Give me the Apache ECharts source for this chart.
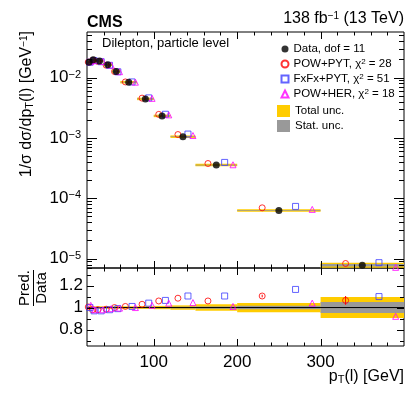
<!DOCTYPE html>
<html>
<head>
<meta charset="utf-8">
<script src="https://cdn.jsdelivr.net/npm/echarts@6/dist/echarts.min.js"></script>
<style>
html, body { margin: 0; padding: 0; background: #fff; }
#main { width: 407px; height: 394px; }
</style>
</head>
<body>
<div id="main"></div>
<script>
let fontFam = "'Liberation Sans', Arial, Helvetica, sans-serif";

// bins in pT(l) [GeV]
let binEdges = [20, 25, 30, 40, 50, 60, 80, 100, 120, 150, 200, 300, 400];
// 1/sigma dsigma/dpT, data
let dataVals = [0.0180, 0.0197, 0.0189, 0.0163, 0.0126, 0.0084, 0.00444, 0.00232, 0.00105, 0.000356, 0.000063, 0.0000078];
// relative uncertainties
let totUnc = [0.012, 0.010, 0.008, 0.008, 0.008, 0.010, 0.012, 0.015, 0.020, 0.030, 0.042, 0.095];
let statUnc = [0.003, 0.003, 0.003, 0.003, 0.003, 0.004, 0.005, 0.006, 0.008, 0.010, 0.016, 0.050];
// prediction / data
let ratioPowPyt = [1.005, 0.98, 0.98, 0.985, 1.0, 1.01, 1.03, 1.06, 1.085, 1.06, 1.105, 1.065];
let ratioFxFxPyt = [1.0, 0.97, 0.97, 0.98, 0.99, 1.01, 1.04, 1.065, 1.105, 1.105, 1.165, 1.10];
let ratioPowHer = [1.02, 0.98, 0.98, 0.99, 0.995, 1.0, 1.02, 1.04, 1.045, 1.01, 1.04, 0.92];
let errPowPyt = [0, 0, 0, 0, 0, 0, 0, 0, 0, 0, 0.012, 0.04];
let predNames = ['POW+PYT', 'FxFx+PYT', 'POW+HER'];
let chi2 = [28, 51, 18];
let dof = 11;
let xTickLabels = [100, 200, 300];
let ratioTickLabels = [0.8, 1, 1.2];

let xMin = 20, xMax = 400, yMin = 7e-6, yMax = 0.057, rMin = 0.65, rMax = 1.36;

let binCenter = [], binWidth = [];
for (let i = 0; i < dataVals.length; i++) {
    binCenter.push((binEdges[i] + binEdges[i + 1]) / 2);
    binWidth.push(binEdges[i + 1] - binEdges[i]);
}

// predictions drawn shifted inside the bin
function predPoints(ratio, off, upper) {
    let pts = [];
    for (let i = 0; i < ratio.length; i++) {
        pts.push([binCenter[i] + off * binWidth[i], upper ? dataVals[i] * ratio[i] : ratio[i]]);
    }
    return pts;
}

function bandData(unc, upper) {
    let d = [];
    for (let i = 0; i < unc.length; i++) {
        let c = upper ? dataVals[i] : 1;
        d.push([binEdges[i], binEdges[i + 1], c * (1 - unc[i]), c * (1 + unc[i])]);
    }
    return d;
}

function renderBand(minH) {
    return function (params, api) {
        let a = api.coord([api.value(0), api.value(3)]);
        let b = api.coord([api.value(1), api.value(2)]);
        let h = b[1] - a[1];
        let yc = (a[1] + b[1]) / 2;
        if (h < minH) h = minH;
        return {
            type: 'rect',
            shape: {x: a[0], y: yc - h / 2, width: b[0] - a[0], height: h},
            style: {fill: api.visual('color')}
        };
    };
}

// ticks on all four sides of a panel
function tickData(xMaj, xMinr, yMaj, yMinr, refX, refY, lens) {
    let d = [];
    xMaj.forEach(v => d.push([v, refY, lens[0], 0]));
    xMinr.forEach(v => d.push([v, refY, lens[1], 0]));
    yMaj.forEach(v => d.push([refX, v, lens[2], 1]));
    yMinr.forEach(v => d.push([refX, v, lens[3], 1]));
    return d;
}

function renderTick(params, api) {
    let cs = params.coordSys;
    let p = api.coord([api.value(0), api.value(1)]);
    let len = api.value(2);
    let st = {stroke: '#000', lineWidth: 1};
    if (api.value(3) === 0) {
        let x = Math.round(p[0]) + 0.5;
        let yb = cs.y + cs.height, yt = cs.y;
        return {type: 'group', children: [
            {type: 'line', shape: {x1: x, y1: yb, x2: x, y2: yb - len}, style: st},
            {type: 'line', shape: {x1: x, y1: yt, x2: x, y2: yt + len}, style: st}
        ]};
    }
    let y = Math.round(p[1]) + 0.5;
    let xl = cs.x, xr = cs.x + cs.width;
    return {type: 'group', children: [
        {type: 'line', shape: {x1: xl, y1: y, x2: xl + len, y2: y}, style: st},
        {type: 'line', shape: {x1: xr, y1: y, x2: xr - len, y2: y}, style: st}
    ]};
}

let xMinorTicks = [];
for (let v = 40; v < 400; v += 20) {
    if (xTickLabels.indexOf(v) < 0) xMinorTicks.push(v);
}
let logMajor = [], logMinor = [];
for (let e = -6; e <= -1; e++) {
    let base = Math.pow(10, e);
    if (base >= yMin && base <= yMax) logMajor.push(base);
    for (let k = 2; k <= 9; k++) {
        let v = k * base;
        if (v >= yMin && v <= yMax) logMinor.push(v);
    }
}

let markerStyles = [
    {symbol: 'circle', color: '#ff0000'},
    {symbol: 'rect', color: '#3c3cff'},
    {symbol: 'triangle', color: '#ff00ff'}
];
let ratios = [ratioPowPyt, ratioFxFxPyt, ratioPowHer];
let offsets = [-0.2, 0.2, 0.4];

let series = [
    {name: 'Total unc.', type: 'custom', xAxisIndex: 0, yAxisIndex: 0, z: 2,
        itemStyle: {color: '#ffcc00'}, encode: {x: [0, 1], y: [2, 3]},
        renderItem: renderBand(2.5), data: bandData(totUnc, true)},
    {name: 'Stat. unc.', type: 'custom', xAxisIndex: 0, yAxisIndex: 0, z: 3,
        itemStyle: {color: '#999999'}, encode: {x: [0, 1], y: [2, 3]},
        renderItem: renderBand(0.7), data: bandData(statUnc, true)},
    {name: 'Total unc.', type: 'custom', xAxisIndex: 1, yAxisIndex: 1, z: 2,
        itemStyle: {color: '#ffcc00'}, encode: {x: [0, 1], y: [2, 3]},
        renderItem: renderBand(2.5), data: bandData(totUnc, false)},
    {name: 'Stat. unc.', type: 'custom', xAxisIndex: 1, yAxisIndex: 1, z: 3,
        itemStyle: {color: '#999999'}, encode: {x: [0, 1], y: [2, 3]},
        renderItem: renderBand(1), data: bandData(statUnc, false)},
    {type: 'line', xAxisIndex: 1, yAxisIndex: 1, z: 4, symbol: 'none', silent: true,
        lineStyle: {color: '#000', width: 1}, data: [[xMin, 1], [xMax, 1]]},
    {type: 'custom', xAxisIndex: 1, yAxisIndex: 1, z: 5, encode: {x: 0, y: [1, 2]},
        renderItem: function (params, api) {
            let a = api.coord([api.value(0), api.value(1)]);
            let b = api.coord([api.value(0), api.value(2)]);
            return {type: 'line', shape: {x1: a[0], y1: a[1], x2: b[0], y2: b[1]},
                style: {stroke: '#ff0000', lineWidth: 1}};
        },
        data: errPowPyt.map((e, i) => [binCenter[i] - 0.2 * binWidth[i], ratioPowPyt[i] - e, ratioPowPyt[i] + e])
            .filter((d, i) => errPowPyt[i] > 0)}
];

for (let k = 0; k < 3; k++) {
    for (let g = 0; g < 2; g++) {
        series.push({
            name: predNames[k], type: 'scatter', xAxisIndex: g, yAxisIndex: g, z: 6,
            symbol: markerStyles[k].symbol, symbolSize: 6,
            itemStyle: {color: 'rgba(0,0,0,0)', borderColor: markerStyles[k].color, borderWidth: 1},
            data: predPoints(ratios[k], offsets[k], g === 0)
        });
    }
}
series.push({
    name: 'Data', type: 'scatter', xAxisIndex: 0, yAxisIndex: 0, z: 7,
    symbol: 'circle', symbolSize: 7, itemStyle: {color: '#000'},
    data: dataVals.map((v, i) => [binCenter[i], v])
});
series.push({type: 'custom', xAxisIndex: 0, yAxisIndex: 0, z: 8, silent: true,
    encode: {x: 0, y: 1}, renderItem: renderTick,
    data: tickData(xTickLabels, xMinorTicks, logMajor, logMinor, 200, 1e-3, [7, 3.5, 10, 5])});
series.push({type: 'custom', xAxisIndex: 1, yAxisIndex: 1, z: 8, silent: true,
    encode: {x: 0, y: 1}, renderItem: renderTick,
    data: tickData(xTickLabels, xMinorTicks, ratioTickLabels, [0.7, 0.9, 1.1, 1.3], 200, 1, [7, 3.5, 7, 4])});

let supRich = {
    b: {fontSize: 17, fontFamily: fontFam, color: '#000'},
    e: {fontSize: 11, fontFamily: fontFam, color: '#000', verticalAlign: 'top', lineHeight: 9}
};

let myChart = echarts.init(document.getElementById('main'), null, {renderer: 'canvas'});
let option = {
    animation: false,
    backgroundColor: '#fff',
    textStyle: {fontFamily: fontFam},
    grid: [
        {left: 87, right: 3, top: 32, height: 236, show: true, borderColor: '#000', borderWidth: 1},
        {left: 87, right: 3, top: 268, height: 78, show: true, borderColor: '#000', borderWidth: 1}
    ],
    xAxis: [
        {type: 'value', gridIndex: 0, min: xMin, max: xMax, axisLine: {show: false},
            axisTick: {show: false}, splitLine: {show: false}, axisLabel: {show: false}},
        {type: 'value', gridIndex: 1, min: xMin, max: xMax, axisLine: {show: false},
            axisTick: {show: false}, splitLine: {show: false},
            axisLabel: {customValues: xTickLabels, fontSize: 17, color: '#000', margin: 8, fontFamily: fontFam}}
    ],
    yAxis: [
        {type: 'log', logBase: 10, gridIndex: 0, min: yMin, max: yMax, axisLine: {show: false},
            axisTick: {show: false}, splitLine: {show: false},
            axisLabel: {
                margin: 6, rich: supRich,
                formatter: function (v) {
                    let e = Math.log10(v);
                    if (Math.abs(e - Math.round(e)) > 0.01) return '';
                    return '{b|10}{e|\u2212' + Math.abs(Math.round(e)) + '}';
                }
            }},
        {type: 'value', gridIndex: 1, min: rMin, max: rMax, axisLine: {show: false},
            axisTick: {show: false}, splitLine: {show: false},
            axisLabel: {customValues: ratioTickLabels, fontSize: 17, color: '#000', margin: 4, fontFamily: fontFam,
                formatter: v => String(Math.round(v * 10) / 10)}}
    ],
    legend: [
        {data: ['Data', 'POW+PYT', 'FxFx+PYT', 'POW+HER'], orient: 'vertical', left: 275.5, top: 38,
            itemWidth: 7, itemHeight: 7, itemGap: 3, selectedMode: false,
            textStyle: {fontSize: 11.5, color: '#000', fontFamily: fontFam,
                rich: {s: {fontSize: 8, verticalAlign: 'top', lineHeight: 7, fontFamily: fontFam}}},
            formatter: function (name) {
                if (name === 'Data') return 'Data, dof = ' + dof;
                let i = predNames.indexOf(name);
                return name + ', \u03c7{s|2} = ' + chi2[i];
            }},
        {data: [{name: 'Total unc.', icon: 'rect'}, {name: 'Stat. unc.', icon: 'rect'}], orient: 'vertical',
            left: 272, top: 100, itemWidth: 13, itemHeight: 12, itemGap: 3, selectedMode: false,
            textStyle: {fontSize: 11.5, color: '#000', fontFamily: fontFam}}
    ],
    graphic: [
        {type: 'text', left: 87, top: 15, style: {text: 'CMS', font: 'bold 16px ' + fontFam, fill: '#000'}},
        {type: 'text', right: 3, top: 11, style: {
            text: '{t|138 fb}{s|\u22121}{t| (13 TeV)}', fill: '#000',
            rich: {t: {fontSize: 16, fontFamily: fontFam}, s: {fontSize: 10, fontFamily: fontFam, verticalAlign: 'top', lineHeight: 9}}
        }},
        {type: 'text', left: 102, top: 37, style: {text: 'Dilepton, particle level', font: '13px ' + fontFam, fill: '#000'}},
        {type: 'text', x: 35, y: 31, rotation: Math.PI / 2, style: {
            text: '{t|1/\u03c3 d\u03c3/dp}{b|T}{t|(l) [GeV}{s|\u22121}{t|]}', align: 'right', verticalAlign: 'bottom', fill: '#000',
            rich: {t: {fontSize: 16, fontFamily: fontFam}, b: {fontSize: 11, fontFamily: fontFam, verticalAlign: 'bottom', lineHeight: 11},
                s: {fontSize: 10, fontFamily: fontFam, verticalAlign: 'top', lineHeight: 9}}
        }},
        {type: 'text', x: 25, y: 288, rotation: Math.PI / 2, style: {text: 'Pred.', font: '15px ' + fontFam, fill: '#000', align: 'center', verticalAlign: 'middle'}},
        {type: 'line', shape: {x1: 33.5, y1: 270, x2: 33.5, y2: 306}, style: {stroke: '#000', lineWidth: 1}},
        {type: 'text', x: 42, y: 288, rotation: Math.PI / 2, style: {text: 'Data', font: '15px ' + fontFam, fill: '#000', align: 'center', verticalAlign: 'middle'}},
        {type: 'text', right: 3, top: 369, style: {
            text: '{t|p}{b|T}{t|(l) [GeV]}', fill: '#000',
            rich: {t: {fontSize: 16, fontFamily: fontFam}, b: {fontSize: 11, fontFamily: fontFam, verticalAlign: 'bottom', lineHeight: 11}}
        }}
    ],
    series: series
};
myChart.setOption(option);
</script>
</body>
</html>
